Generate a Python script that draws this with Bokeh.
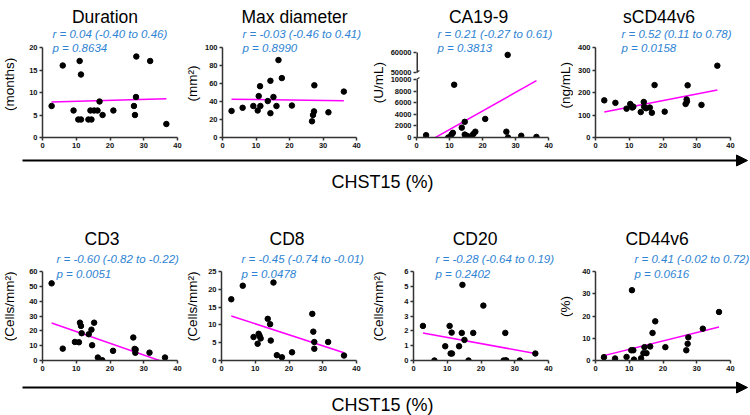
import math
from bokeh.plotting import figure
from bokeh.layouts import row, column
from bokeh.models import Range1d, FixedTicker, Label, Arrow, NormalHead
from bokeh.embed import file_html
from bokeh.resources import INLINE

FONT = "Liberation Sans"
BLUE = "#2e83d3"
MAGENTA = "#ff00ff"
AXIS = "#333333"

x_ticks = [0, 10, 20, 30, 40]
x_max = 40
x_label = "CHST15 (%)"

# ---------------- data ----------------
dur_x = [2.7, 6.0, 9.2, 10.6, 11.0, 11.4, 11.4, 13.6, 14.2, 14.5, 15.3, 16.3, 16.9, 17.8, 21.0, 27.1, 27.4, 27.7, 27.8, 31.9, 36.7]
dur_y = [7, 16, 6, 4, 17, 4, 14, 4, 6, 4, 6, 6, 8, 5, 6, 7, 5, 9, 18, 17, 3]
dur_fit = [7.9, 8.6]

maxd_x = [2.7, 6.0, 9.2, 10.5, 10.8, 11.2, 11.3, 13.5, 14.3, 14.3, 15.2, 16.1, 16.7, 17.7, 20.7, 26.7, 27.0, 27.3, 27.4, 31.6, 36.2]
maxd_y = [29.5, 33, 35, 30, 46, 57, 35, 40.5, 63, 27, 45, 35, 86, 66, 35.5, 18, 25, 29, 58, 28, 51]
maxd_fit = [42.6, 40.7]

ca_x = [2.9, 9.6, 10.6, 11.0, 11.4, 13.7, 14.6, 14.6, 15.2, 15.6, 16.5, 17.2, 17.8, 20.8, 27.2, 27.6, 27.7, 31.7, 36.3]
ca_y = [400, 0, 500, 800, 9100, 1700, 2700, 500, 300, 100, 200, 600, 1000, 3200, 1000, 58800, 0, 300, 100]
ca_fit = [-900, 9800]

scd_x = [2.6, 5.9, 9.2, 10.3, 10.6, 10.9, 11.2, 13.4, 14.3, 14.4, 15.0, 16.1, 16.7, 17.5, 20.5, 26.7, 27.0, 27.1, 27.3, 31.4, 36.1]
scd_y = [165, 154, 128, 149, 140, 133, 137, 113, 158, 137, 130, 133, 110, 233, 115, 149, 169, 160, 232, 145, 319]
scd_fit = [113.5, 211]

cd3_x = [2.7, 6.0, 9.6, 10.8, 11.1, 11.4, 11.6, 13.7, 14.5, 14.7, 15.3, 16.4, 17.7, 20.9, 26.9, 27.3, 27.5, 27.6, 31.7, 36.3]
cd3_y = [52, 8, 12.5, 12.3, 25.5, 23.3, 18.4, 17.7, 20.8, 10.3, 25.5, 2, 0.2, 6.5, 15.5, 7.8, 5.2, 7.4, 5.3, 2]
cd3_fit = [25.3, -1.3]

cd8_x = [2.9, 6.3, 9.5, 10.7, 11.0, 11.3, 11.6, 13.7, 14.4, 14.6, 15.4, 16.4, 17.9, 20.9, 26.9, 27.2, 27.5, 27.5, 31.6, 36.3]
cd8_y = [17.2, 21, 6.6, 4.7, 7.5, 6.9, 6.2, 11.7, 10.2, 5.6, 21.9, 1.5, 0.9, 2.3, 13.1, 8.1, 5.2, 3.3, 5.2, 1.4]
cd8_fit = [12.5, 2.2]

cd20_x = [2.8, 6.2, 9.4, 10.7, 11.0, 11.3, 11.4, 13.5, 14.3, 14.5, 15.1, 16.3, 17.7, 20.7, 26.7, 27.2, 27.3, 27.5, 31.5, 36.1]
cd20_y = [2.33, 0, 0.96, 2.33, 0.47, 1.88, 0.47, 0.96, 1.86, 5.1, 1.39, 0, 1.86, 3.7, 0, 1.86, 0, 0, 0, 0.47]
cd20_fit = [1.86, 0.47]

cd44_x = [2.5, 5.8, 9.2, 10.6, 10.8, 11.2, 11.4, 13.5, 14.2, 14.5, 15.1, 16.2, 16.9, 17.7, 20.7, 26.9, 27.3, 27.5, 31.8, 36.6]
cd44_y = [1.5, 0.9, 1.6, 4.6, 31.6, 4.6, 0.4, 1.0, 3.3, 6.0, 3.3, 6.3, 12.4, 17.6, 6.0, 4.6, 7.5, 10.4, 14.3, 21.8]
cd44_fit = [2.2, 15.1]

top_titles = ["Duration", "Max diameter", "CA19-9", "sCD44v6"]
top_units = ["(months)", "(mm²)", "(U/mL)", "(ng/mL)"]
top_r = ["r = 0.04 (-0.40 to 0.46)", "r = -0.03 (-0.46 to 0.41)", "r = 0.21 (-0.27 to 0.61)", "r = 0.52 (0.11 to 0.78)"]
top_p = ["p = 0.8634", "p = 0.8990", "p = 0.3813", "p = 0.0158"]

bot_titles = ["CD3", "CD8", "CD20", "CD44v6"]
bot_units = ["(Cells/mm²)", "(Cells/mm²)", "(Cells/mm²)", "(%)"]
bot_r = ["r = -0.60 (-0.82 to -0.22)", "r = -0.45 (-0.74 to -0.01)", "r = -0.28 (-0.64 to 0.19)", "r = 0.41 (-0.02 to 0.72)"]
bot_p = ["p = 0.0051", "p = 0.0478", "p = 0.2402", "p = 0.0616"]

# CA19-9 broken axis: lower 0..10000, upper 50000..60000
ca_low_max = 10000
ca_high_min = 50000
ca_high_max = 60000
ca_lo_ticks = [0, 2000, 4000, 6000, 8000, 10000]

# ---------------- layout constants (pixels) ----------------
LAB_W = [17, 18, 18, 17]          # narrow strips holding the rotated unit labels
WIDTHS = [166, 168, 169, 177]     # panel figures
LEFTS = [25, 20, 26, 22]          # left border of each panel (tick labels)
DATA_W = 135


def style_axis(ax):
    ax.axis_line_color = AXIS
    ax.axis_line_width = 1.5
    ax.major_tick_line_color = AXIS
    ax.major_tick_line_width = 1.5
    ax.major_tick_out = 3
    ax.major_tick_in = 0
    ax.minor_tick_line_color = None
    ax.major_label_text_font = FONT
    ax.major_label_text_font_size = "7.5px"
    ax.major_label_text_font_style = "bold"
    ax.major_label_text_color = "#111111"
    ax.major_label_standoff = 2


def bare_fig(w, h):
    f = figure(width=w, height=h, x_range=Range1d(0, w), y_range=Range1d(0, h),
               output_backend="svg", toolbar_location=None, min_border=0,
               x_axis_location=None, y_axis_location=None)
    f.outline_line_color = None
    f.xgrid.visible = False
    f.ygrid.visible = False
    return f


def unit_fig(i, text, fig_h, center_from_top):
    f = bare_fig(LAB_W[i], fig_h)
    f.add_layout(Label(x=LAB_W[i] / 2, y=fig_h - center_from_top, text=text, angle=math.pi / 2,
                       text_align="center", text_baseline="middle", text_font=FONT,
                       text_font_size="13.5px", text_color="black"))
    return f


def panel(i, title, xs, ys, fit, y_end, y_ticks, r_txt, p_txt, fig_h, bottom, data_px,
          stat_dx, title_dx, off_title, off_r, off_p):
    w = WIDTHS[i]
    left = LEFTS[i]
    frame_w = w - left
    frame_h = fig_h - bottom
    x_ext = x_max * frame_w / DATA_W
    y_ext = y_end * frame_h / data_px
    p = figure(width=w, height=fig_h, x_range=Range1d(0, x_ext), y_range=Range1d(0, y_ext),
               output_backend="svg", toolbar_location=None,
               min_border_left=left, min_border_right=0,
               min_border_top=0, min_border_bottom=bottom)
    p.outline_line_color = None
    p.xgrid.visible = False
    p.ygrid.visible = False
    p.xaxis.ticker = FixedTicker(ticks=x_ticks)
    p.yaxis.ticker = FixedTicker(ticks=y_ticks)
    p.xaxis.bounds = (0, x_max)
    p.yaxis.bounds = (0, y_end)
    style_axis(p.xaxis[0])
    style_axis(p.yaxis[0])

    p.line([min(xs), max(xs)], fit, line_color=MAGENTA, line_width=1.5)
    p.scatter(xs, ys, size=5.5, color="black")

    p.add_layout(Label(x=x_max / 2, y=y_end, x_offset=title_dx, y_offset=off_title, text=title,
                       text_align="center", text_baseline="alphabetic", text_font=FONT,
                       text_font_size="17.5px", text_color="black"))
    p.add_layout(Label(x=0, y=y_end, x_offset=stat_dx, y_offset=off_r, text=r_txt,
                       text_align="left", text_baseline="alphabetic", text_font=FONT,
                       text_font_size="11.5px", text_font_style="italic", text_color=BLUE))
    p.add_layout(Label(x=0, y=y_end, x_offset=stat_dx, y_offset=off_p, text=p_txt,
                       text_align="left", text_baseline="alphabetic", text_font=FONT,
                       text_font_size="11.5px", text_font_style="italic", text_color=BLUE))
    return p


# ---- top row ----
TOP_H, TOP_B, TOP_DATA = 152, 15, 90
top_stat_dx = [10, 20, 21, 26]
top_title_dx = [-5, 5, -4, -4]
top_unit_c = [93, 92, 91, 94]

p1 = panel(0, top_titles[0], dur_x, dur_y, dur_fit, 20, [0, 5, 10, 15, 20],
           top_r[0], top_p[0], TOP_H, TOP_B, TOP_DATA, top_stat_dx[0], top_title_dx[0], 31, 14, 0)
p2 = panel(1, top_titles[1], maxd_x, maxd_y, maxd_fit, 100, [0, 20, 40, 60, 80, 100],
           top_r[1], top_p[1], TOP_H, TOP_B, TOP_DATA, top_stat_dx[1], top_title_dx[1], 31, 14, 0)

# CA19-9 with broken axis (lower segment 58 px, gap 7 px, upper segment 20 px)
lo_px, gap_px, hi_px = 58, 7, 20
units_per_px = ca_low_max / lo_px
gap_units = round(gap_px * units_per_px)
hi_scale = hi_px * units_per_px / (ca_high_max - ca_high_min)
hi_start = ca_low_max + gap_units
hi_end = round(hi_start + (ca_high_max - ca_high_min) * hi_scale)


def ca_map(v):
    if v <= ca_low_max:
        return v
    return hi_start + (v - ca_high_min) * hi_scale


ca_y_disp = [ca_map(v) for v in ca_y]
ca_ticks = ca_lo_ticks + [hi_start, hi_end]
p3 = panel(2, top_titles[2], ca_x, ca_y_disp, ca_fit, hi_end, ca_ticks,
           top_r[2], top_p[2], TOP_H, TOP_B, lo_px + gap_px + hi_px, top_stat_dx[2],
           top_title_dx[2], 36, 19, 5)
p3.yaxis.major_label_overrides = {hi_start: str(ca_high_min), hi_end: str(ca_high_max)}
p3.yaxis.axis_line_color = None
p3.segment(x0=[0, 0], y0=[0, hi_start], x1=[0, 0], y1=[ca_low_max, hi_end], line_color=AXIS, line_width=3)
p3.segment(x0=[0, 0], y0=[ca_low_max, hi_start], x1=[0.9, 0.9], y1=[ca_low_max + 350, hi_start + 350],
           line_color=AXIS, line_width=1.2)

p4 = panel(3, top_titles[3], scd_x, scd_y, scd_fit, 400, [0, 100, 200, 300, 400],
           top_r[3], top_p[3], TOP_H, TOP_B, TOP_DATA, top_stat_dx[3], top_title_dx[3], 31, 14, 0)

top_row = row(unit_fig(0, top_units[0], TOP_H, top_unit_c[0]), p1,
              unit_fig(1, top_units[1], TOP_H, top_unit_c[1]), p2,
              unit_fig(2, top_units[2], TOP_H, top_unit_c[2]), p3,
              unit_fig(3, top_units[3], TOP_H, top_unit_c[3]), p4)

# ---- bottom row ----
BOT_H, BOT_B, BOT_DATA = 180, 15, 89
bot_stat_dx = [14, 20, 22, 39]
bot_title_dx = [-8, -2, -6, -6]
bot_unit_c = [121, 121, 121, 121]

q1 = panel(0, bot_titles[0], cd3_x, cd3_y, cd3_fit, 60, [0, 10, 20, 30, 40, 50, 60],
           bot_r[0], bot_p[0], BOT_H, BOT_B, BOT_DATA, bot_stat_dx[0], bot_title_dx[0], 33, 13, -2)
q2 = panel(1, bot_titles[1], cd8_x, cd8_y, cd8_fit, 25, [0, 5, 10, 15, 20, 25],
           bot_r[1], bot_p[1], BOT_H, BOT_B, BOT_DATA, bot_stat_dx[1], bot_title_dx[1], 33, 13, -2)
q3 = panel(2, bot_titles[2], cd20_x, cd20_y, cd20_fit, 6, [0, 1, 2, 3, 4, 5, 6],
           bot_r[2], bot_p[2], BOT_H, BOT_B, BOT_DATA, bot_stat_dx[2], bot_title_dx[2], 33, 13, -2)
q4 = panel(3, bot_titles[3], cd44_x, cd44_y, cd44_fit, 40, [0, 10, 20, 30, 40],
           bot_r[3], bot_p[3], BOT_H, BOT_B, BOT_DATA, bot_stat_dx[3], bot_title_dx[3], 33, 13, -2)

bot_row = row(unit_fig(0, bot_units[0], BOT_H, bot_unit_c[0]), q1,
              unit_fig(1, bot_units[1], BOT_H, bot_unit_c[1]), q2,
              unit_fig(2, bot_units[2], BOT_H, bot_unit_c[2]), q3,
              unit_fig(3, bot_units[3], BOT_H, bot_unit_c[3]), q4)


def arrow_fig(h, arrow_from_top, label_from_top):
    f = bare_fig(750, h)
    ya = h - arrow_from_top
    f.add_layout(Arrow(end=NormalHead(size=11, fill_color="black", line_color="black", line_width=1),
                       x_start=22, y_start=ya, x_end=747, y_end=ya,
                       line_color="black", line_width=2))
    f.add_layout(Label(x=382, y=h - label_from_top, text=x_label, text_align="center",
                       text_baseline="middle", text_font=FONT, text_font_size="18px",
                       text_color="black"))
    return f


a1 = arrow_fig(43, 8, 29)
a2 = arrow_fig(40, 12, 29)

layout = column(top_row, a1, bot_row, a2)

open("out.html", "w").write(file_html(layout, INLINE))
